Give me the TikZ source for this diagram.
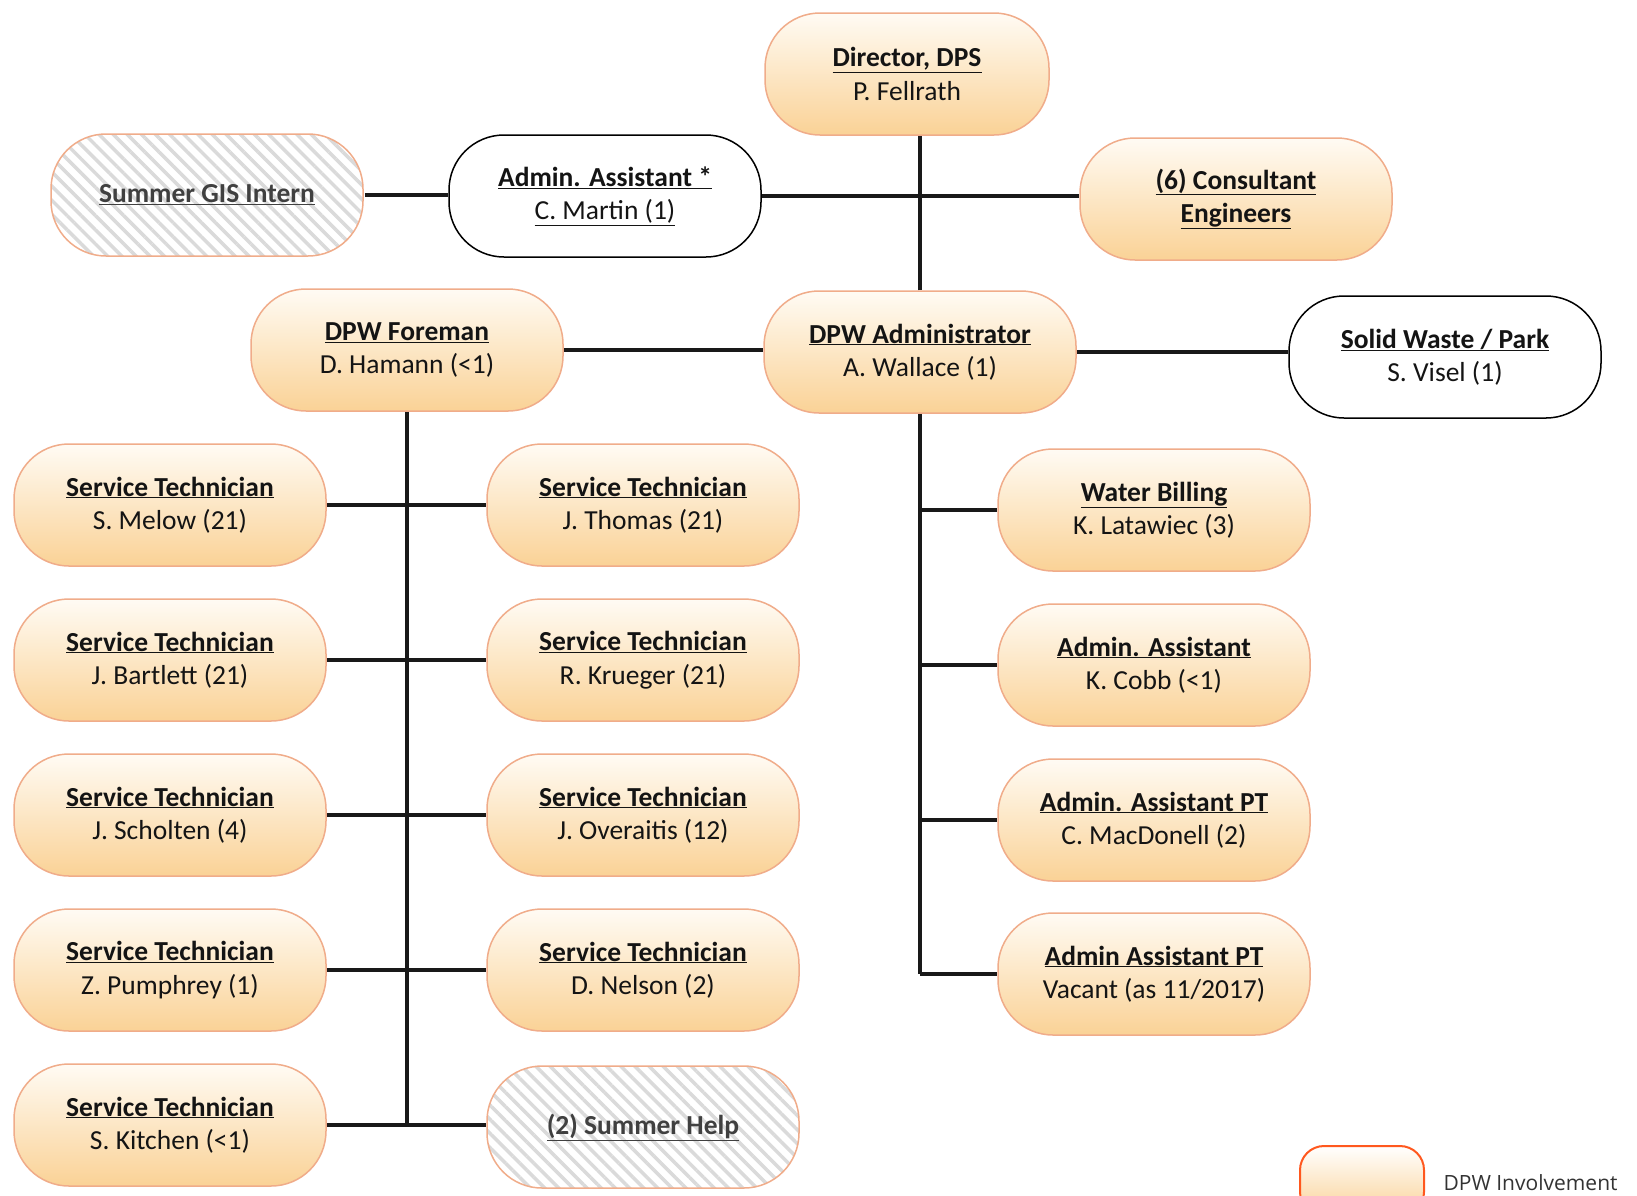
\documentclass[tikz,border=0pt]{standalone}
\usepackage{fontspec}
\setmainfont{Carlito}
\newfontfamily\keyfont{Open Sans}
\usetikzlibrary{patterns.meta}
\definecolor{dpwtop}{RGB}{255,251,244}
\definecolor{dpwmid}{RGB}{254,238,212}
\definecolor{dpwbottom}{RGB}{250,210,150}
\definecolor{dpwline}{RGB}{240,172,138}
\definecolor{keyline}{RGB}{255,88,30}
\definecolor{hatchgray}{RGB}{218,218,218}
\def\job#1#2{\textbf{\underline{#1}}\\#2}

\tikzset{
	postbox/.style={rectangle, rounded corners=55pt, minimum width=312pt, minimum height=122pt, align=center, font=\fontsize{27.5}{33.5}\selectfont, text=black!92, line width=1.5pt},
	dpwbox/.style={postbox, draw=dpwline, top color=dpwtop, middle color=dpwmid, bottom color=dpwbottom},
	whitebox/.style={postbox, draw=black, fill=white},
	hatchbox/.style={postbox, draw=dpwline, pattern={Lines[angle=-45, distance=10pt, line width=3.5pt]}, pattern color=hatchgray, text=black!75},
	link/.style={line width=3.5pt, black!90},
}

\begin{document}
\begin{tikzpicture}[x=1pt, y=-1pt]
		%%%%% START %%%%%
		\clip (0, 0) rectangle (1637, 1195);
		
		\node[dpwbox, minimum width=284pt] (dir) at (907, 74) {\job{Director, DPS}{P. Fellrath}};
		\node[hatchbox] (gis) at (207, 195) {\textbf{\underline{Summer GIS Intern}}};
		\node[whitebox] (asst) at (605, 196) {\textbf{\underline{Admin. Assistant *}}\\\underline{C. Martin (1)}};
		\node[dpwbox] (cons) at (1236, 199) {\textbf{\underline{(6) Consultant}}\\\textbf{\underline{Engineers}}};
		
		\node[dpwbox] (fore) at (407, 350) {\job{DPW Foreman}{D. Hamann (<1)}};
		\node[dpwbox] (admin) at (920, 352) {\job{DPW Administrator}{A. Wallace (1)}};
		\node[whitebox] (solid) at (1445, 357) {\job{Solid Waste / Park}{S. Visel (1)}};
		
		\node[dpwbox] (melow) at (170, 505) {\job{Service Technician}{S. Melow (21)}};
		\node[dpwbox] (bartlett) at (170, 660) {\job{Service Technician}{J. Bartlett (21)}};
		\node[dpwbox] (scholten) at (170, 815) {\job{Service Technician}{J. Scholten (4)}};
		\node[dpwbox] (pumphrey) at (170, 970) {\job{Service Technician}{Z. Pumphrey (1)}};
		\node[dpwbox] (kitchen) at (170, 1125) {\job{Service Technician}{S. Kitchen (<1)}};
		
		\node[dpwbox] (thomas) at (643, 505) {\job{Service Technician}{J. Thomas (21)}};
		\node[dpwbox] (krueger) at (643, 660) {\job{Service Technician}{R. Krueger (21)}};
		\node[dpwbox] (overaitis) at (643, 815) {\job{Service Technician}{J. Overaitis (12)}};
		\node[dpwbox] (nelson) at (643, 970) {\job{Service Technician}{D. Nelson (2)}};
		\node[hatchbox] (help) at (643, 1127) {\textbf{\underline{(2) Summer Help}}};
		
		\node[dpwbox] (billing) at (1154, 510) {\job{Water Billing}{K. Latawiec (3)}};
		\node[dpwbox] (cobb) at (1154, 665) {\job{Admin. Assistant}{K. Cobb (<1)}};
		\node[dpwbox] (macdonell) at (1154, 820) {\job{Admin. Assistant PT}{C. MacDonell (2)}};
		\node[dpwbox] (vacant) at (1154, 974) {\job{Admin Assistant PT}{Vacant (as 11/2017)}};
		
		\draw[link] (gis.east) -- (gis.east -| asst.west);
		\draw[link] (asst.east) -- (asst.east -| cons.west);
		\draw[link] (admin.north) -- (admin.north |- dir.south);
		\draw[link] (fore.east) -- (fore.east -| admin.west);
		\draw[link] (admin.east) -- (admin.east -| solid.west);
		
		\draw[link] (fore.south) -- (fore.south |- kitchen.east);
		\draw[link] (melow.east) -- (thomas.west);
		\draw[link] (bartlett.east) -- (krueger.west);
		\draw[link] (scholten.east) -- (overaitis.west);
		\draw[link] (pumphrey.east) -- (nelson.west);
		\draw[link] (kitchen.east) -- (kitchen.east -| help.west);
		
		\draw[link] (admin.south) -- (admin.south |- vacant.west);
		\draw[link] (admin.south |- billing.west) -- (billing.west);
		\draw[link] (admin.south |- cobb.west) -- (cobb.west);
		\draw[link] (admin.south |- macdonell.west) -- (macdonell.west);
		\draw[link] (admin.south |- vacant.west) -- (vacant.west);
		
		\node[rectangle, rounded corners=24pt, minimum width=124pt, minimum height=70pt, draw=keyline, line width=2pt, top color=white, bottom color=dpwbottom] (key) at (1362, 1181) {};
		\node[anchor=west, font=\keyfont\fontsize{21}{25}\selectfont, text=black!80] (keytext) at (1440, 1183) {DPW Involvement};
		%%%%% END %%%%%
\end{tikzpicture}
\end{document}
